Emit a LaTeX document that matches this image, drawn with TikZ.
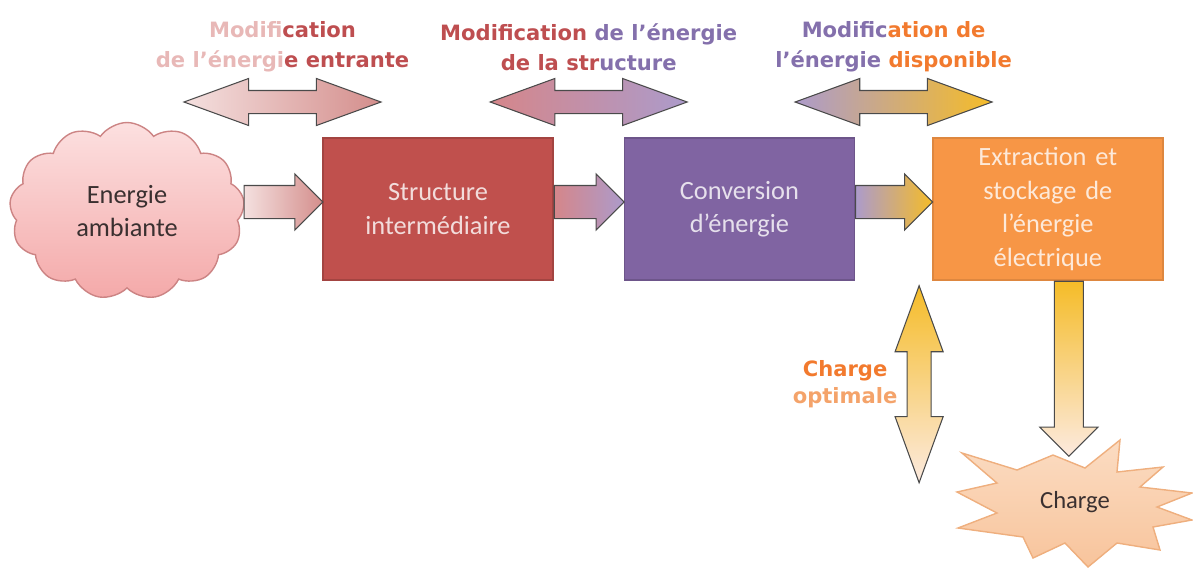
\documentclass[tikz,border=0pt]{standalone}
\usepackage{fontspec}
\setmainfont{Carlito}
\newfontfamily\lblfont{DejaVu Sans}
\usetikzlibrary{positioning, calc, shapes.symbols, shapes.arrows}

\definecolor{redbox}{HTML}{C0504D}
\definecolor{violetbox}{HTML}{8064A2}
\definecolor{orangebox}{HTML}{F79646}
\definecolor{redtxt}{HTML}{F2DCDB}
\definecolor{violettxt}{HTML}{E6E0EC}
\definecolor{orangetxt}{HTML}{FDE9D9}
\definecolor{pinklight}{HTML}{F4E0DF}
\definecolor{pinkdark}{HTML}{D48E8C}
\definecolor{rosemid}{HTML}{D5868A}
\definecolor{lavender}{HTML}{AC9BCB}
\definecolor{gold}{HTML}{F5BC28}
\definecolor{peach}{HTML}{FCEADF}
\definecolor{arrowline}{HTML}{4A4A4A}
\definecolor{lblpink}{HTML}{E8B8B7}
\definecolor{lblred}{HTML}{BE4E50}
\definecolor{lblviolet}{HTML}{8470AC}
\definecolor{lblorange}{HTML}{F27A2E}
\definecolor{lblorangelight}{HTML}{F4A36A}
\definecolor{cloudtop}{HTML}{FCE0E0}
\definecolor{cloudbot}{HTML}{F4A9A9}
\definecolor{cloudline}{HTML}{CC8484}
\definecolor{startop}{HTML}{FBDCC2}
\definecolor{starbot}{HTML}{F8C49C}
\definecolor{starline}{HTML}{EFAF7E}
\definecolor{darktxt}{HTML}{3A3030}

\tikzstyle{block} = [rectangle, draw, line width=0.8pt, minimum width=4.6cm,
    minimum height=2.84cm, text width=4.2cm, text centered,
    font=\fontsize{15}{19}\selectfont]
\tikzstyle{cloudy} = [cloud, draw=cloudline, line width=0.8pt, top color=cloudtop,
    bottom color=cloudbot, cloud puffs=13, cloud puff arc=110, aspect=1.4,
    minimum width=4.7cm, minimum height=3.54cm, inner sep=0, text=darktxt,
    align=center, font=\fontsize{15}{19}\selectfont]
\tikzstyle{flow} = [single arrow, draw=arrowline, line width=0.6pt, inner xsep=0,
    inner ysep=0.32cm, minimum width=0pt, single arrow head extend=0.23cm,
    single arrow tip angle=90, anchor=tail]
\tikzstyle{dflow} = [double arrow, draw=arrowline, line width=0.6pt, inner xsep=0,
    inner ysep=0.22cm, minimum width=0pt, minimum height=3.94cm,
    double arrow head extend=0.24cm, double arrow tip angle=40]
\tikzstyle{lbl} = [inner sep=0, align=center,
    font=\lblfont\bfseries\fontsize{12}{17}\selectfont]

\begin{document}
\begin{tikzpicture}[node distance=1.4cm]
        \useasboundingbox (0,0) rectangle (23.86,-11.36);
        \coordinate (labelrow) at (0,-0.94);
        % Place nodes
        \node [cloudy] (ambient) at (2.54,-4.22) {Energie\\ambiante};
        \node [block, fill=redbox, draw=redbox!85!black, text=redtxt] (struct) at (8.76,-4.18)
            {Structure\\intermédiaire};
        \node [block, fill=violetbox, draw=violetbox!85!black, text=violettxt, right=of struct] (conv)
            {Conversion\\d’énergie};
        \node [block, fill=orangebox, draw=orangebox!90!black, text=orangetxt, right=1.54cm of conv] (extr)
            {Extraction et\\stockage de\\l’énergie\\électrique};
        % Load
        \coordinate (loadc) at (21.5,-10.1);
        \filldraw [draw=starline, line width=0.8pt, top color=startop, bottom color=starbot, shift={(loadc)}]
            (-2.26,1.04) -- (-1.16,0.70) -- (-0.44,1.00) -- (0.20,0.74) -- (0.90,1.30)
            -- (0.84,0.66) -- (1.76,0.76) -- (1.30,0.36) -- (2.34,0.24) -- (1.64,-0.04)
            -- (2.34,-0.30) -- (1.56,-0.44) -- (1.70,-0.90) -- (0.84,-0.76) -- (0.26,-1.24)
            -- (-0.20,-0.76) -- (-0.84,-1.06) -- (-1.04,-0.64) -- (-2.34,-0.46) -- (-1.56,-0.16)
            -- (-2.36,0.26) -- (-1.56,0.44) -- cycle;
        \node [text=darktxt, font=\fontsize{14}{17}\selectfont] (load) at ($(loadc)+(0,0.06)$) {Charge};
        % Draw flow arrows
        \path let \p1=(ambient.east), \p2=(struct.west) in
            node [flow, minimum height=\x2-\x1, left color=pinklight, right color=pinkdark] (flow1)
            at ($(\x1,\y2)+(0,0.14)$) {};
        \path let \p1=(struct.east), \p2=(conv.west) in
            node [flow, minimum height=\x2-\x1, left color=rosemid, right color=lavender] (flow2)
            at ($(\x1,\y2)+(0,0.14)$) {};
        \path let \p1=(conv.east), \p2=(extr.west) in
            node [flow, minimum height=\x2-\x1, left color=lavender, right color=gold] (flow3)
            at ($(\x1,\y2)+(0,0.14)$) {};
        \node [flow, rotate=-90, inner ysep=0.28cm, single arrow head extend=0.29cm,
            minimum height=3.5cm, top color=gold, bottom color=peach] (flowout)
            at ($(extr.south)+(0.42,0)$) {};
        % Modification arrows
        \path let \p1=($(ambient)!0.5!(struct)$) in
            node [dflow, left color=pinklight, right color=pinkdark] (modin) at (\x1,-2.04) {};
        \path let \p1=($(struct)!0.5!(conv)$) in
            node [dflow, left color=rosemid, right color=lavender] (modstruct) at (\x1,-2.04) {};
        \path let \p1=($(conv)!0.5!(extr)$) in
            node [dflow, left color=lavender, right color=gold] (modavail) at (\x1,-2.04) {};
        \node [dflow, rotate=90, inner ysep=0.23cm, top color=gold, bottom color=peach] (optim)
            at ($(extr.south west)+(-0.26,-2.07)$) {};
        % Labels
        \node [lbl] (labin) at (modin |- labelrow)
            {\textcolor{lblpink}{Modifi}\textcolor{lblred}{cation}\\
             \textcolor{lblpink}{de l’énergi}\textcolor{lblred}{e entrante}};
        \node [lbl] (labstruct) at (modstruct |- labelrow)
            {\textcolor{lblred}{Modification} \textcolor{lblviolet}{de l’énergie}\\
             \textcolor{lblred}{de la str}\textcolor{lblviolet}{ucture}};
        \node [lbl] (labavail) at (modavail |- labelrow)
            {\textcolor{lblviolet}{Modific}\textcolor{lblorange}{ation de}\\
             \textcolor{lblviolet}{l’énergie} \textcolor{lblorange}{disponible}};
        \node [lbl, font=\lblfont\bfseries\fontsize{12}{15.5}\selectfont] (labopt)
            at ($(optim)+(-1.48,0)$)
            {\textcolor{lblorange}{Charge}\\\textcolor{lblorangelight}{optimale}};
\end{tikzpicture}
\end{document}
